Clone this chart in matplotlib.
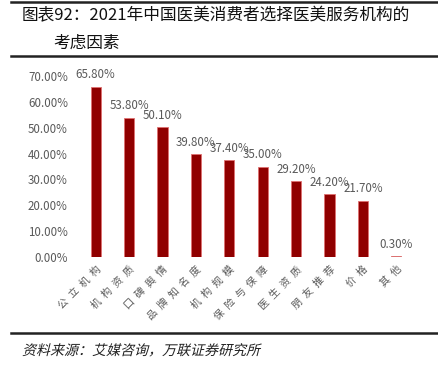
import matplotlib
matplotlib.use("Agg")
import matplotlib.pyplot as plt
from matplotlib.ticker import FuncFormatter
from matplotlib.textpath import TextPath
from matplotlib.patches import PathPatch
from matplotlib.font_manager import FontProperties
from matplotlib.transforms import Affine2D

plt.rcParams['font.family'] = ['Noto Sans CJK SC', 'DejaVu Sans']

categories = ["公立机构", "机构资质", "口碑舆情", "品牌知名度", "机构规模",
              "保险与保障", "医生资质", "朋友推荐", "价格", "其他"]
values = [65.8, 53.8, 50.1, 39.8, 37.4, 35.0, 29.2, 24.2, 21.7, 0.3]
yticks = [0, 10, 20, 30, 40, 50, 60, 70]
title1 = "图表92：2021年中国医美消费者选择医美服务机构的"
title2 = "考虑因素"
source = "资料来源：艾媒咨询，万联证券研究所"

W, H = 439, 367
fig = plt.figure(figsize=(W / 100, H / 100), dpi=100)

ax = fig.add_axes([79 / W, 1 - 257 / H, (413 - 79) / W, (257 - 76) / H])
x = list(range(len(categories)))
ax.bar(x, values, width=0.3, color="#900000", edgecolor="#e07070", linewidth=0.6)
ax.set_xlim(-0.5, len(categories) - 0.5)
ax.set_ylim(0, 70)
ax.set_yticks(yticks)
ax.yaxis.set_major_formatter(FuncFormatter(lambda v, p: f"{v:.2f}%"))
ax.set_xticks(x)
spaced = ["\u2002".join(c) for c in categories]
ax.set_xticklabels(spaced, rotation=45, ha="right", rotation_mode="anchor")
ax.tick_params(axis="both", length=0, colors="#595959", labelsize=8.3)
ax.tick_params(axis="x", labelsize=7.3)
ax.tick_params(axis="y", pad=8)
ax.tick_params(axis="x", pad=5)
for s in ax.spines.values():
    s.set_visible(False)
for xi, v in zip(x, values):
    ax.annotate(f"{v:.2f}%", (xi, v), xytext=(0, 4), textcoords="offset points",
                ha="center", va="bottom", fontsize=8.3, color="#595959",
                annotation_clip=False)

fig.text(22 / W, 1 - 16 / H, title1, fontsize=12, color="#111111", va="center")
fig.text(53 / W, 1 - 43 / H, title2, fontsize=12, color="#111111", va="center")
fig.add_artist(plt.Line2D([11 / W, 1], [1 - 1.5 / H] * 2, color="#222222", lw=1.8))
fig.add_artist(plt.Line2D([11 / W, 1], [1 - 56 / H] * 2, color="#222222", lw=1.8))
fig.add_artist(plt.Line2D([11 / W, 1], [1 - 333 / H] * 2, color="#222222", lw=1.8))

tp = TextPath((0, 0), source, size=14, prop=FontProperties(family="Noto Sans CJK SC"))
tr = Affine2D().skew_deg(14, 0).translate(22, H - 355)
fig.add_artist(PathPatch(tp, transform=tr, facecolor="#222222", edgecolor="none"))

fig.savefig("out.png", dpi=100)
